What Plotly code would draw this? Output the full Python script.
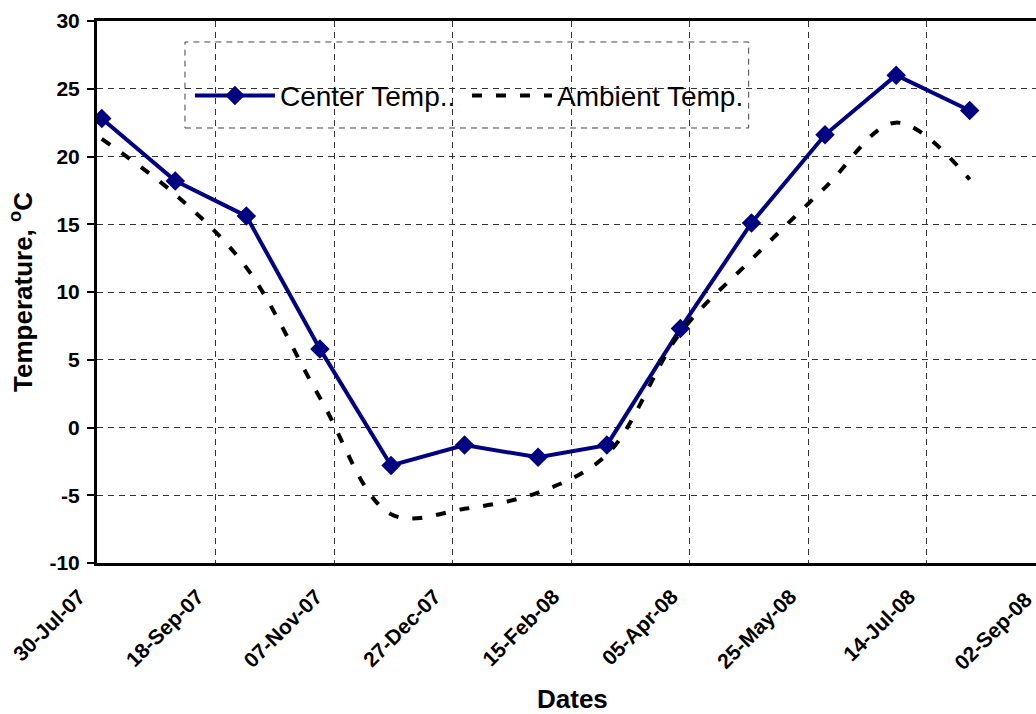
import plotly.graph_objects as go
import pandas as pd

# ---- data ----
dates = ['2007-08-01', '2007-09-01', '2007-10-01', '2007-11-01', '2007-12-01',
         '2008-01-01', '2008-02-01', '2008-03-01', '2008-04-01', '2008-05-01',
         '2008-06-01', '2008-07-01', '2008-08-01']
center_temp = [22.8, 18.2, 15.6, 5.8, -2.8, -1.3, -2.2, -1.3, 7.3, 15.1, 21.6, 26.0, 23.4]
ambient_temp = [21.3, 17.2, 11.8, 2.2, -6.4, -6.0, -4.8, -2.0, 7.0, 12.4, 17.7, 22.5, 18.3]
tick_dates = ['2007-07-30', '2007-09-18', '2007-11-07', '2007-12-27', '2008-02-15',
              '2008-04-05', '2008-05-25', '2008-07-14', '2008-09-02']
tick_labels = ['30-Jul-07', '18-Sep-07', '07-Nov-07', '27-Dec-07', '15-Feb-08',
               '05-Apr-08', '25-May-08', '14-Jul-08', '02-Sep-08']
y_ticks = [-10, -5, 0, 5, 10, 15, 20, 25, 30]
y_tick_labels = ['-10', '-5', '0', '5', '10', '15', '20', '25', '30']

FONT = "Arial, Liberation Sans, sans-serif"
NAVY = "#000080"

# visible x window: the last tick (02-Sep-08) lies just past the right edge
x_start = pd.Timestamp(tick_dates[0])
x_end = x_start + pd.Timedelta(days=395.97)
last_tick_paper = (pd.Timestamp(tick_dates[-1]) - x_start) / (x_end - x_start)

fig = go.Figure()
fig.add_trace(go.Scatter(
    x=dates, y=center_temp, name="Center Temp..", mode="lines+markers",
    line=dict(color=NAVY, width=4),
    marker=dict(symbol="diamond", size=15, color=NAVY),
))
fig.add_trace(go.Scatter(
    x=dates, y=ambient_temp, name="Ambient Temp.", mode="lines",
    line=dict(color="black", width=4, dash="10px,14px", shape="spline", smoothing=1.0),
))

# legend frame (dashed)
fig.add_shape(type="rect", xref="paper", yref="paper",
              x0=0.0937, x1=0.694, y0=0.8026, y1=0.9613,
              line=dict(color="#444", width=1, dash="6px,5px"),
              fillcolor="white", layer="between")

fig.update_layout(
    width=1036, height=714,
    margin=dict(l=97, r=0, t=21, b=151),
    paper_bgcolor="white", plot_bgcolor="white",
    font=dict(family=FONT, color="black"),
    showlegend=True,
    legend=dict(orientation="h", x=0.099, y=0.862, xanchor="left", yanchor="middle",
                bgcolor="rgba(0,0,0,0)", font=dict(size=28, family=FONT),
                itemwidth=80, itemsizing="trace", entrywidth=182),
    xaxis=dict(
        type="date", automargin=False,
        range=[x_start, x_end],
        tickmode="array", tickvals=tick_dates[:-1], ticktext=tick_labels[:-1],
        tickangle=-45, tickfont=dict(size=21, family=FONT, weight="bold"),
        ticklabelstandoff=10, ticklabelshift=-18,
        showgrid=True, gridcolor="#333", gridwidth=1, griddash="6px,5px",
        showline=True, linecolor="black", linewidth=3, mirror=True,
        ticks="", zeroline=False,
    ),
    yaxis=dict(
        automargin=False,
        range=[-10, 30], tickmode="array", tickvals=y_ticks, ticktext=y_tick_labels,
        tickfont=dict(size=21, family=FONT, weight="bold"),
        ticklabelstandoff=3,
        showgrid=True, gridcolor="#333", gridwidth=1, griddash="6px,5px",
        showline=True, linecolor="black", linewidth=3, mirror=False,
        ticks="outside", ticklen=7, tickwidth=2, tickcolor="black",
        zeroline=False,
        title=dict(text="<b>Temperature, <sup>o</sup>C</b>", font=dict(size=26, family=FONT), standoff=10),
    ),
)

# x-axis title
fig.add_annotation(x=0.506, y=-0.2505, xref="paper", yref="paper",
                   text="<b>Dates</b>", showarrow=False, borderpad=0,
                   xanchor="center", yanchor="middle",
                   font=dict(size=26, family=FONT, color="black"))

# last tick label (its tick lies just outside the visible plot width)
fig.add_annotation(x=last_tick_paper, y=0, xref="paper", yref="paper",
                   text="<b>" + tick_labels[-1] + "</b>", textangle=-45,
                   showarrow=False, xanchor="right", yanchor="top",
                   xshift=-6, yshift=-21,
                   font=dict(size=21, family=FONT, color="black"))

fig.write_html("out.html")
